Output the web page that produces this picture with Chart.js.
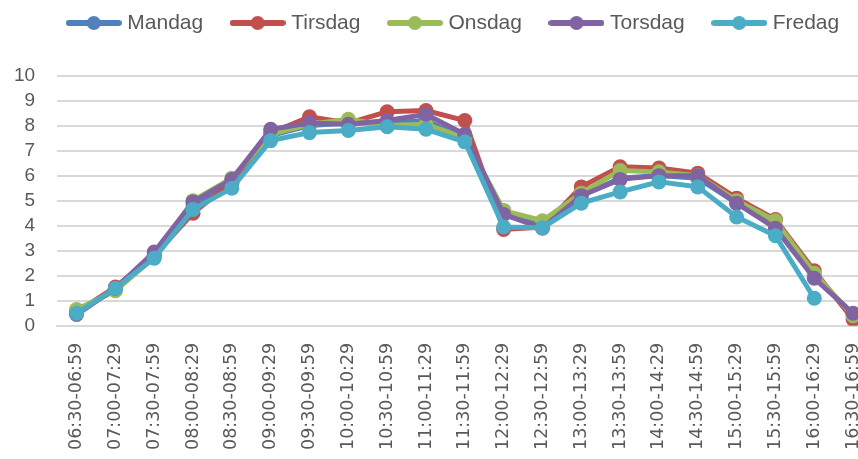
<!DOCTYPE html>
<html>
<head>
<meta charset="utf-8">
<script src="https://cdn.jsdelivr.net/npm/chart.js@4/dist/chart.umd.min.js"></script>
<style>
  html, body { margin: 0; padding: 0; background: #fff; overflow: hidden; }
  #chart { display: block; }
</style>
</head>
<body>
<canvas id="chart" width="880" height="459"></canvas>
<script>
// tidsintervaller (x-akse)
const timeLabels = ['06:30-06:59', '07:00-07:29', '07:30-07:59', '08:00-08:29', '08:30-08:59',
  '09:00-09:29', '09:30-09:59', '10:00-10:29', '10:30-10:59', '11:00-11:29', '11:30-11:59',
  '12:00-12:29', '12:30-12:59', '13:00-13:29', '13:30-13:59', '14:00-14:29', '14:30-14:59',
  '15:00-15:29', '15:30-15:59', '16:00-16:29', '16:30-16:59'];

const mandag  = [0.5, 1.5, 2.8, 4.8, 5.7, 7.6, 8.0, 8.1, 8.1, 8.2, 7.5, 4.6, 4.0, 5.2, 5.9, 6.0, 5.9, 4.9, 3.95, 2.0, 0.45];
const tirsdag = [0.55, 1.55, 2.8, 4.5, 5.75, 7.7, 8.35, 8.1, 8.55, 8.6, 8.2, 3.85, 3.95, 5.55, 6.35, 6.3, 6.1, 5.1, 4.25, 2.2, 0.25];
const onsdag  = [0.65, 1.4, 2.75, 5.0, 5.9, 7.65, 8.05, 8.25, 8.0, 8.05, 7.5, 4.6, 4.2, 5.3, 6.2, 6.15, 6.0, 5.0, 4.2, 2.1, 0.4];
const torsdag = [0.45, 1.5, 2.95, 4.95, 5.85, 7.85, 8.1, 8.05, 8.2, 8.45, 7.65, 4.45, 3.9, 5.2, 5.85, 6.0, 6.0, 4.9, 3.9, 1.9, 0.5];
const fredag  = [0.5, 1.5, 2.7, 4.65, 5.5, 7.4, 7.72, 7.8, 7.95, 7.85, 7.35, 3.95, 3.92, 4.9, 5.35, 5.75, 5.55, 4.35, 3.6, 1.1, null];

const dayNames = ['Mandag', 'Tirsdag', 'Onsdag', 'Torsdag', 'Fredag'];
const dayColors = ['#4F81BD', '#C0504D', '#9BBB59', '#8064A2', '#4BACC6'];
const dayValues = [mandag, tirsdag, onsdag, torsdag, fredag];

Chart.defaults.color = '#595959';

// legend-ikon: linje med prikk
function makeIcon(color) {
  const c = document.createElement('canvas');
  c.width = 56; c.height = 16;
  const g = c.getContext('2d');
  g.strokeStyle = color;
  g.lineWidth = 6;
  g.lineCap = 'round';
  g.beginPath(); g.moveTo(3, 8); g.lineTo(53, 8); g.stroke();
  g.fillStyle = color;
  g.beginPath(); g.arc(28, 8, 7, 0, Math.PI * 2); g.fill();
  return c;
}
const legendIcons = dayColors.map(makeIcon);

// ekstra luft under legenden og litt forskyvning til høyre
const legendTweak = {
  id: 'legendTweak',
  beforeInit(chart) {
    const origFit = chart.legend.fit;
    chart.legend.fit = function() {
      origFit.bind(chart.legend)();
      this.height += 32;
    };
  },
  afterLayout(chart) {
    chart.legend.left += 19;
    chart.legend.right += 19;
  }
};

const datasets = dayNames.map((name, i) => ({
  label: name,
  data: dayValues[i],
  borderColor: dayColors[i],
  backgroundColor: dayColors[i],
  borderWidth: 5,
  pointRadius: 7.5,
  pointBorderWidth: 0,
  pointHoverRadius: 7.5,
  tension: 0,
  order: 5 - i
}));

const ctx = document.getElementById('chart').getContext('2d');
new Chart(ctx, {
  type: 'line',
  data: { labels: timeLabels, datasets: datasets },
  plugins: [legendTweak],
  options: {
    responsive: false,
    animation: false,
    layout: { padding: { left: -8, top: -19, right: 0, bottom: 0 } },
    plugins: {
      tooltip: { enabled: false },
      legend: {
        position: 'top',
        labels: {
          usePointStyle: true,
          pointStyleWidth: 46,
          padding: 31.5,
          color: '#595959',
          font: { family: "'Liberation Sans', Arial, sans-serif", size: 21 },
          sort: (a, b) => a.datasetIndex - b.datasetIndex,
          generateLabels(chart) {
            const items = Chart.defaults.plugins.legend.labels.generateLabels(chart);
            items.forEach(it => { it.pointStyle = legendIcons[it.datasetIndex]; });
            return items;
          }
        }
      }
    },
    scales: {
      x: {
        offset: true,
        grid: { display: false },
        border: { color: '#D9D9D9', width: 2 },
        afterFit(scale) {
          scale.paddingLeft = 0;
          scale.paddingRight = 0;
        },
        ticks: {
          autoSkip: false,
          minRotation: 90,
          maxRotation: 90,
          padding: 9,
          color: '#595959',
          font: { family: "'DejaVu Sans', sans-serif", size: 17.5 }
        }
      },
      y: {
        min: 0,
        max: 10,
        border: { display: false },
        grid: { color: '#D9D9D9', lineWidth: 2, drawTicks: false },
        ticks: {
          stepSize: 1,
          autoSkip: false,
          padding: 22,
          color: '#595959',
          font: { family: "'Liberation Sans', Arial, sans-serif", size: 19 }
        }
      }
    }
  }
});
</script>
</body>
</html>
